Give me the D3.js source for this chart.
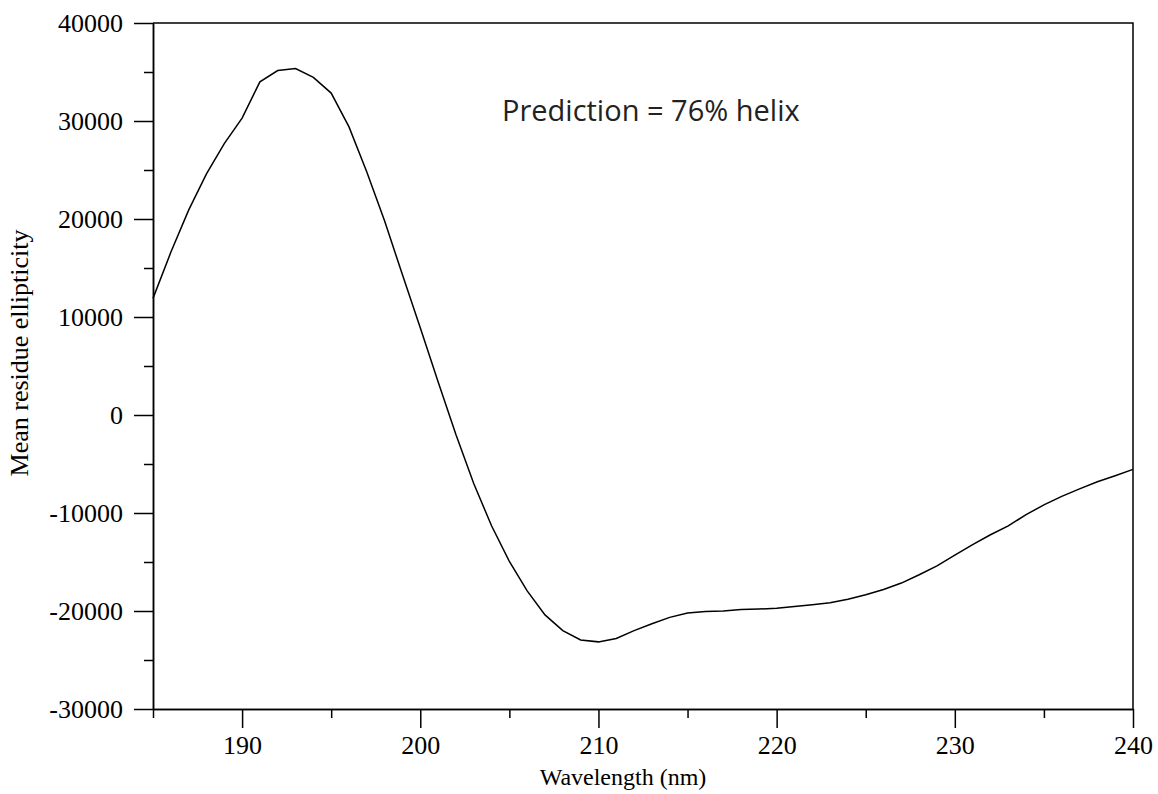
<!DOCTYPE html>
<html>
<head>
<meta charset="utf-8">
<script src="https://cdn.jsdelivr.net/npm/d3@7"></script>
<style>
  body { margin: 0; background: #fff; }
  svg text { font-family: "Liberation Serif", "Times New Roman", serif; }
</style>
</head>
<body>
<div id="chart"></div>
<script>
// CD spectrum, values
var wavelength = [185,186,187,188,189,190,191,192,193,194,195,196,197,198,199,200,
  201,202,203,204,205,206,207,208,209,210,211,212,213,214,215,216,217,218,219,220,
  221,222,223,224,225,226,227,228,229,230,231,232,233,234,235,236,237,238,239,240];
var ellipticity = [11900,16600,20900,24600,27700,30300,34000,35150,35350,34450,32850,29400,24800,19800,14300,8900,
  3400,-2000,-7000,-11300,-14950,-17950,-20400,-22000,-22950,-23150,-22800,-22000,-21300,-20650,-20200,-20050,-20000,-19850,-19800,-19730,
  -19550,-19350,-19150,-18800,-18350,-17800,-17150,-16300,-15390,-14300,-13220,-12220,-11310,-10170,-9170,-8300,-7540,-6810,-6200,-5550];
var xMajorTicks = [190,200,210,220,230,240];
var xMinorTicks = [185,195,205,215,225,235];
var yMajorTicks = [-30000,-20000,-10000,0,10000,20000,30000,40000];
var yMinorTicks = [-25000,-15000,-5000,5000,15000,25000,35000];
var annotation = "Prediction = 76% helix";

var W = 1158, H = 794;
var margin = {top: 23, right: 25, bottom: 85, left: 153};
var w = W - margin.left - margin.right, h = H - margin.top - margin.bottom;

var svg = d3.select("#chart").append("svg").attr("width", W).attr("height", H);
var g = svg.append("g").attr("transform", "translate(" + margin.left + "," + margin.top + ")");

var x = d3.scaleLinear().domain([185, 240]).range([0, w]);
var y = d3.scaleLinear().domain([-30000, 40000]).range([h, 0]);

// plain hyphen for negatives, like the original
var fmt = function(d){ return String(d); };

// frame (top and right)
g.append("path").attr("d", "M0,0H" + w + "V" + h).attr("fill", "none").attr("stroke", "#000").attr("stroke-width", 1.5);

// x axis
var xg = g.append("g").attr("transform", "translate(0," + h + ")");
xg.append("g").call(d3.axisBottom(x).tickValues(xMinorTicks).tickSize(9).tickFormat("").tickSizeOuter(0));
xg.append("g").call(d3.axisBottom(x).tickValues(xMajorTicks).tickSize(19).tickPadding(8).tickFormat(fmt).tickSizeOuter(0));

// y axis
var yg = g.append("g");
yg.append("g").call(d3.axisLeft(y).tickValues(yMinorTicks).tickSize(9).tickFormat("").tickSizeOuter(0));
yg.append("g").call(d3.axisLeft(y).tickValues(yMajorTicks).tickSize(19).tickPadding(11).tickFormat(fmt).tickSizeOuter(0));

g.selectAll(".domain, .tick line").attr("stroke", "#000").attr("stroke-width", 1.5);
g.selectAll(".tick text").attr("font-size", 26).attr("fill", "#000")
  .style("font-family", "'Liberation Serif', 'Times New Roman', serif");

// the curve
var line = d3.line().x(function(d, i){ return x(wavelength[i]); }).y(function(d){ return y(d); });
g.append("path").attr("d", line(ellipticity)).attr("fill", "none").attr("stroke", "#000").attr("stroke-width", 1.5);

// axis titles
svg.append("text").attr("x", 623).attr("y", 785).attr("text-anchor", "middle")
  .attr("font-size", 24).text("Wavelength (nm)");
svg.append("text").attr("transform", "translate(28,353) rotate(-90)").attr("text-anchor", "middle")
  .attr("font-size", 26).text("Mean residue ellipticity");

// annotation
svg.append("text").attr("x", 502).attr("y", 121).attr("font-size", 29).attr("fill", "#222")
  .style("font-family", "'Open Sans', 'Noto Sans', sans-serif").text(annotation);
</script>
</body>
</html>
